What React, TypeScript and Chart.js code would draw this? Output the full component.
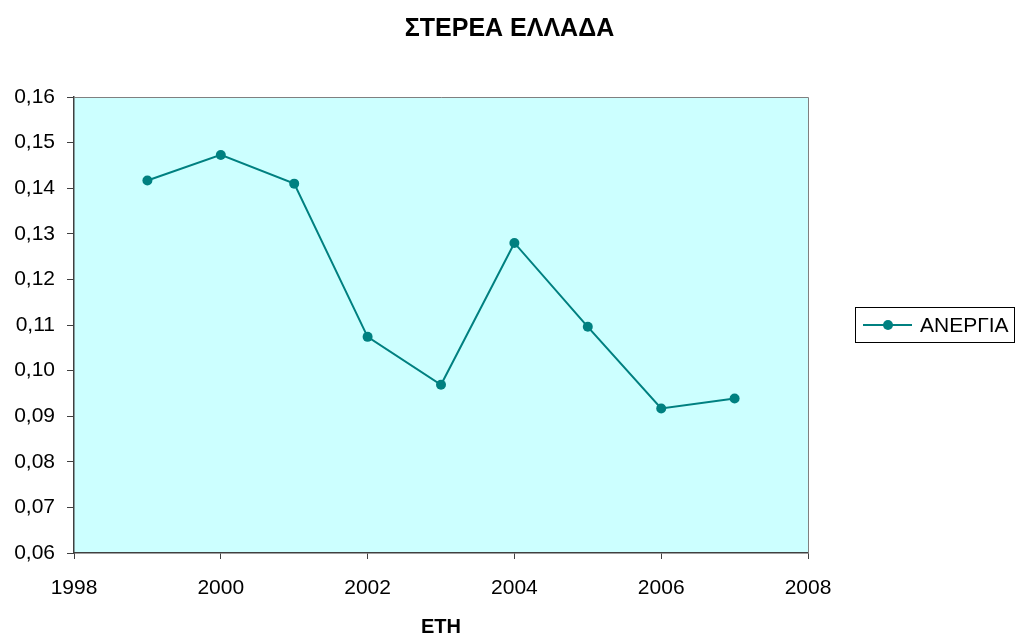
import React, { useEffect, useRef } from "react";
import { Chart, registerables } from "chart.js";

Chart.register(...registerables);

const chartTitle = "ΣΤΕΡΕΑ ΕΛΛΑΔΑ";
const xAxisTitle = "ΕΤΗ";
const seriesLabel = "ΑΝΕΡΓΙΑ";
const years = [1999, 2000, 2001, 2002, 2003, 2004, 2005, 2006, 2007];
const unemployment = [0.1417, 0.1473, 0.1410, 0.1074, 0.0969, 0.1280, 0.1096, 0.0917, 0.0939];
const xMin = 1998;
const xMax = 2008;
const xStep = 2;
const yMin = 0.06;
const yMax = 0.16;
const yStep = 0.01;

const TEAL = "#008080";
const FONT = "'Liberation Sans', Arial, sans-serif";

const framePlugin = {
  id: "frame",
  beforeDraw(chart: any) {
    const { ctx, chartArea } = chart;
    const { left, right, top, bottom } = chartArea;
    ctx.save();
    ctx.fillStyle = "#CCFFFF";
    ctx.fillRect(left, top, right - left, bottom - top);
    ctx.restore();
  },
  afterDatasetsDraw(chart: any) {
    const { ctx, chartArea } = chart;
    const { left, right, top, bottom } = chartArea;
    ctx.save();
    ctx.strokeStyle = "#808080";
    ctx.lineWidth = 1;
    ctx.beginPath();
    ctx.moveTo(left, top + 0.5);
    ctx.lineTo(right + 0.5, top + 0.5);
    ctx.lineTo(right + 0.5, bottom);
    ctx.stroke();
    ctx.restore();
  },
  afterDraw(chart: any) {
    const { ctx } = chart;
    const ds = chart.data.datasets[0];
    const bx = 855.5, by = 307.5, bw = 159, bh = 35;
    ctx.save();
    ctx.strokeStyle = "#000000";
    ctx.lineWidth = 1;
    ctx.fillStyle = "#FFFFFF";
    ctx.fillRect(bx, by, bw, bh);
    ctx.strokeRect(bx, by, bw, bh);
    const cy = by + bh / 2;
    ctx.strokeStyle = ds.borderColor;
    ctx.lineWidth = 2;
    ctx.beginPath();
    ctx.moveTo(863, cy);
    ctx.lineTo(912, cy);
    ctx.stroke();
    ctx.fillStyle = ds.pointBackgroundColor;
    ctx.beginPath();
    ctx.arc(888, cy, 5, 0, Math.PI * 2);
    ctx.fill();
    ctx.fillStyle = "#000000";
    ctx.font = `21px ${FONT}`;
    ctx.textBaseline = "middle";
    ctx.textAlign = "left";
    ctx.fillText(ds.label, 920, cy + 1);
    ctx.restore();
  },
};

export default function App() {
  const canvasRef = useRef<HTMLCanvasElement | null>(null);

  useEffect(() => {
    document.body.style.margin = "0";
    const canvas = canvasRef.current;
    if (!canvas) return;
    const chart = new Chart(canvas, {
      type: "line",
      data: {
        datasets: [
          {
            label: seriesLabel,
            data: years.map((x, i) => ({ x, y: unemployment[i] })),
            borderColor: TEAL,
            backgroundColor: TEAL,
            pointBackgroundColor: TEAL,
            pointBorderColor: TEAL,
            pointRadius: 5,
            pointBorderWidth: 0,
            borderWidth: 2,
            tension: 0,
            fill: false,
            xAxisID: "x",
            yAxisID: "y",
          },
        ],
      },
      options: {
        animation: false,
        responsive: false,
        maintainAspectRatio: false,
        layout: { padding: { left: 0, right: 0, top: 0, bottom: 0 } },
        plugins: {
          legend: { display: false },
          tooltip: { enabled: false },
          title: {
            display: true,
            text: chartTitle,
            color: "#000000",
            font: { family: FONT, size: 25, weight: "bold" },
            padding: { top: 14, bottom: 53 },
          },
        },
        scales: {
          x: {
            type: "linear",
            min: xMin,
            max: xMax,
            afterFit(scale: any) {
              scale.height = 84;
            },
            ticks: {
              stepSize: xStep,
              color: "#000000",
              font: { family: FONT, size: 21 },
              padding: 17,
              callback: (v: any) => String(v),
            },
            grid: {
              drawOnChartArea: false,
              drawTicks: true,
              tickLength: 6,
              color: "#404040",
            },
            border: { color: "#404040", width: 1.5 },
            title: {
              display: true,
              text: xAxisTitle,
              color: "#000000",
              font: { family: FONT, size: 20, weight: "bold", lineHeight: 1 },
              padding: { top: 0, bottom: 0 },
            },
          },
          y: {
            type: "linear",
            position: "left",
            min: yMin,
            max: yMax,
            afterFit(scale: any) {
              scale.width = 74;
            },
            ticks: {
              stepSize: yStep,
              color: "#000000",
              font: { family: FONT, size: 21 },
              padding: 12,
              callback: (v: any) => Number(v).toFixed(2).replace(".", ","),
            },
            grid: {
              drawOnChartArea: false,
              drawTicks: true,
              tickLength: 7,
              color: "#404040",
            },
            border: { color: "#404040", width: 1.5 },
          },
          legendSpace: {
            type: "linear",
            position: "right",
            display: true,
            min: yMin,
            max: yMax,
            afterFit(scale: any) {
              scale.width = 211;
            },
            ticks: { display: false },
            grid: { display: false, drawTicks: false },
            border: { display: false },
          },
        },
      },
      plugins: [framePlugin],
    });
    return () => chart.destroy();
  }, []);

  return (
    <div style={{ position: "absolute", left: 0, top: 0, width: 1019, height: 637, background: "#FFFFFF" }}>
      <canvas ref={canvasRef} width={1019} height={637} style={{ width: 1019, height: 637, display: "block" }} />
    </div>
  );
}
